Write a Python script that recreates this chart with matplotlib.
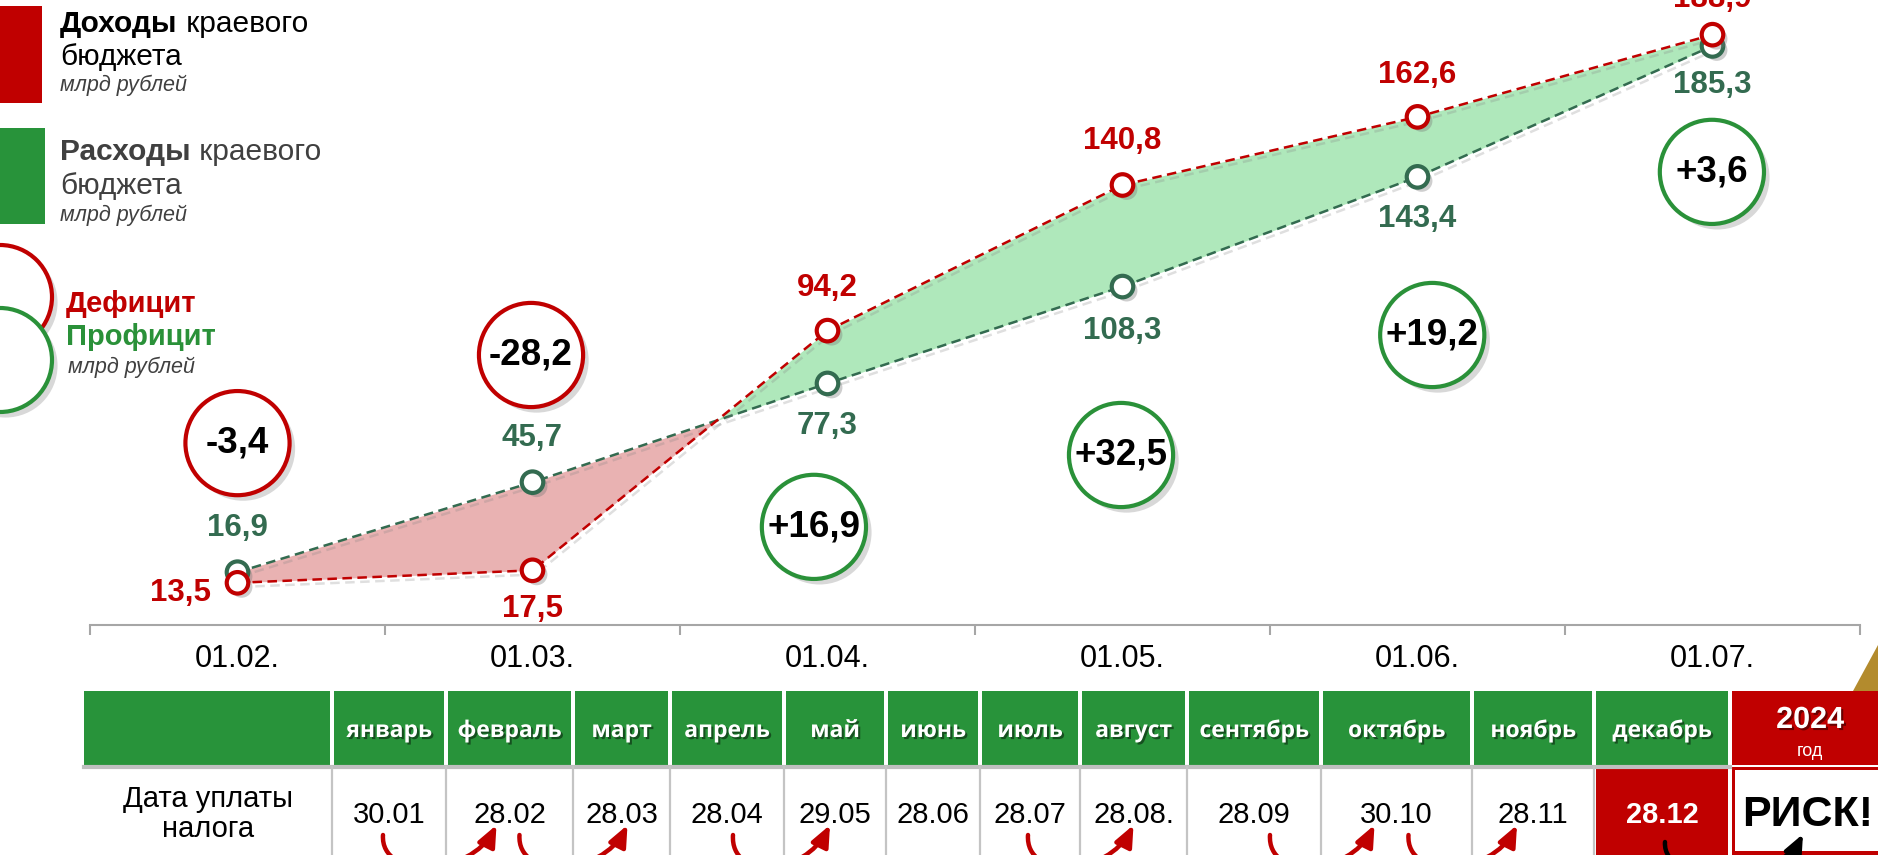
import matplotlib
matplotlib.use('Agg')
import matplotlib.pyplot as plt
import matplotlib.patheffects as pe
from matplotlib.patches import Rectangle, Circle, FancyArrowPatch, Polygon
from matplotlib.path import Path
import numpy as np

# ---------------- data ----------------
dates = ['01.02.', '01.03.', '01.04.', '01.05.', '01.06.', '01.07.']
income = [13.5, 17.5, 94.2, 140.8, 162.6, 188.9]     # Доходы
expense = [16.9, 45.7, 77.3, 108.3, 143.4, 185.3]    # Расходы
months = ['январь', 'февраль', 'март', 'апрель', 'май', 'июнь', 'июль',
          'август', 'сентябрь', 'октябрь', 'ноябрь', 'декабрь']
pay_dates = ['30.01', '28.02', '28.03', '28.04', '29.05', '28.06', '28.07',
             '28.08.', '28.09', '30.10', '28.11', '28.12']
year_label = '2024'
year_sub = 'год'
risk_label = 'РИСК!'
arrow_pairs = [(0, 1), (1, 2), (3, 4), (6, 7), (8, 9), (9, 10)]

# ---------------- style / layout ----------------
RED = '#c00000'
GREEN = '#28933a'
DGREEN = '#336b50'
CGREEN = '#2a9139'
GRAY = '#404040'
plt.rcParams['font.family'] = ['Liberation Sans', 'DejaVu Sans']

W, H = 1878, 855
fig = plt.figure(figsize=(W / 100, H / 100), dpi=100)
fig.patch.set_facecolor('white')

AX_L, AX_R, AX_BOT = 90, 1860, 625
ax = fig.add_axes([AX_L / W, (H - AX_BOT) / H, (AX_R - AX_L) / W, AX_BOT / H])
ax.set_xlim(-0.5, 5.5)
ax.set_ylim(0, 200)
for s in ['top', 'left', 'right']:
    ax.spines[s].set_visible(False)
ax.spines['bottom'].set_color('#a6a6a6')
ax.spines['bottom'].set_linewidth(1.5)
ax.set_yticks([])
ax.set_xticks(np.arange(-0.5, 6, 1))
ax.set_xticklabels([])
ax.set_xticks(range(len(dates)), minor=True)
ax.set_xticklabels(dates, minor=True)
ax.tick_params(axis='x', which='major', length=7.5, width=1.5, color='#a6a6a6', direction='out')
ax.tick_params(axis='x', which='minor', length=0, pad=14, labelsize=22, labelcolor='black')

x = np.arange(len(dates))
inc = np.array(income)
exp_ = np.array(expense)
ax.fill_between(x, inc, exp_, where=inc >= exp_, interpolate=True, color='#afe8bb', lw=0, zorder=1)
ax.fill_between(x, inc, exp_, where=inc < exp_, interpolate=True, color='#e9b2b2', lw=0, zorder=1)

lshadow_line = [pe.SimpleLineShadow(offset=(2, -3), shadow_color='0.5', alpha=0.25), pe.Normal()]
mshadow = [pe.SimplePatchShadow(offset=(3, -3), shadow_rgbFace='0.45', alpha=0.35), pe.Normal()]
ax.plot(x, exp_, ls=(0, (3.8, 2.2)), lw=1.8, color=DGREEN, zorder=2, path_effects=lshadow_line)
ax.plot(x, inc, ls=(0, (3.8, 2.2)), lw=1.8, color=RED, zorder=2, path_effects=lshadow_line)
ax.plot(x, exp_, ls='none', marker='o', ms=15.5, mew=3, mec=DGREEN, mfc='white', zorder=3,
        path_effects=mshadow)
ax.plot(x, inc, ls='none', marker='o', ms=15.5, mew=3, mec=RED, mfc='white', zorder=4,
        path_effects=mshadow)

def fmt(v):
    return f'{v:.1f}'.replace('.', ',')

inc_off = [(-41, -7), (0, -28), (0, 31), (0, 32), (0, 30), (0, 26)]
exp_off = [(0, 32), (0, 32), (0, -31), (0, -32), (0, -30), (0, -28)]
for i in range(len(dates)):
    ax.annotate(fmt(inc[i]), (x[i], inc[i]), xytext=inc_off[i], textcoords='offset points',
                ha='center', va='center', fontsize=22.5, fontweight='bold', color=RED,
                annotation_clip=False, zorder=6)
    ax.annotate(fmt(exp_[i]), (x[i], exp_[i]), xytext=exp_off[i], textcoords='offset points',
                ha='center', va='center', fontsize=22.5, fontweight='bold', color=DGREEN,
                annotation_clip=False, zorder=6)

# balance circles (deficit / surplus)
diff = inc - exp_
circ_pos = [(0.0, 58.2), (0.995, 86.4), (1.954, 31.4), (2.995, 54.4), (4.05, 92.8), (4.998, 145.0)]
cshadow = [pe.SimplePatchShadow(offset=(4, -4), shadow_rgbFace='0.5', alpha=0.3), pe.Normal()]
for d, (cx, cy) in zip(diff, circ_pos):
    col = RED if d < 0 else CGREEN
    ax.plot([cx], [cy], marker='o', ms=75, mew=3, mec=col, mfc='white', zorder=7,
            path_effects=cshadow)
    ax.text(cx, cy, f'{d:+.1f}'.replace('.', ','), ha='center', va='center',
            fontsize=26.5, fontweight='bold', color='black', zorder=8)

# ---------------- overlay (pixel coordinates) ----------------
ov = fig.add_axes([0, 0, 1, 1])
ov.set_xlim(0, W)
ov.set_ylim(H, 0)
ov.axis('off')
ov.patch.set_alpha(0)

fig.canvas.draw()
renderer = fig.canvas.get_renderer()

def two_part(xp, yb, bold_txt, rest_txt, color, size):
    t = ov.text(xp, yb, bold_txt, fontsize=size, fontweight='bold', color=color, va='baseline', ha='left')
    bb = t.get_window_extent(renderer)
    x_end = ov.transData.inverted().transform((bb.x1, bb.y0))[0]
    ov.text(x_end, yb, rest_txt, fontsize=size, color=color, va='baseline', ha='left')

# legend
ov.add_patch(Rectangle((0, 6), 42, 97, color=RED, lw=0))
two_part(60, 32, 'Доходы', ' краевого', 'black', 21.5)
ov.text(60, 65, 'бюджета', fontsize=21.5, color='black', va='baseline')
ov.text(60, 91, 'млрд рублей', fontsize=15.5, style='italic', color=GRAY, va='baseline')

ov.add_patch(Rectangle((0, 128), 45, 96, color=GREEN, lw=0))
two_part(60, 160, 'Расходы', ' краевого', GRAY, 21.5)
ov.text(60, 194, 'бюджета', fontsize=21.5, color=GRAY, va='baseline')
ov.text(60, 221, 'млрд рублей', fontsize=15.5, style='italic', color=GRAY, va='baseline')

lshadow = [pe.SimplePatchShadow(offset=(4, -4), shadow_rgbFace='0.5', alpha=0.3), pe.Normal()]
ov.add_patch(Circle((0, 297), 52, facecolor='white', edgecolor=RED, lw=3, path_effects=lshadow))
ov.add_patch(Circle((0, 360), 52, facecolor='white', edgecolor=CGREEN, lw=3, path_effects=lshadow))
ov.text(66, 312, 'Дефицит', fontsize=21, fontweight='bold', color=RED, va='baseline')
ov.text(66, 345, 'Профицит', fontsize=21, fontweight='bold', color=CGREEN, va='baseline')
ov.text(68, 373, 'млрд рублей', fontsize=15.5, style='italic', color=GRAY, va='baseline')

# gold sign corner
ov.add_patch(Polygon([(1853, 691), (1878, 691), (1878, 645)], closed=True, color='#b38b2d', lw=0))

# table
bounds = [84, 332, 446, 573, 670, 784, 886, 980, 1080, 1187, 1321, 1472, 1594, 1730, 1878]
HT, HB = 691, 765
DT, DB = 769, 855
g = 1.7
ov.add_patch(Rectangle((bounds[0], HT), bounds[1] - g - bounds[0], HB - HT, color=GREEN, lw=0))
hshadow = [pe.SimplePatchShadow(offset=(1.5, -1.5), shadow_rgbFace='black', alpha=0.45), pe.Normal()]
for i, m in enumerate(months):
    x0, x1 = bounds[i + 1] + g, bounds[i + 2] - g
    ov.add_patch(Rectangle((x0, HT), x1 - x0, HB - HT, color=GREEN, lw=0))
    ov.text((x0 + x1) / 2, 731, m, ha='center', va='center', fontsize=16.5, fontweight='bold',
            color='white', family=['Open Sans', 'DejaVu Sans'], path_effects=hshadow)
# year header
ov.add_patch(Rectangle((bounds[13] + g, HT), W - bounds[13] - g, HB - HT, color=RED, lw=0))
ov.text(1810, 720, year_label, ha='center', va='center', fontsize=22, fontweight='bold', color='white',
        path_effects=hshadow)
ov.text(1810, 751, year_sub, ha='center', va='center', fontsize=13, color='white')

# data row
ov.plot([bounds[0], bounds[13]], [767, 767], color='#bfbfbf', lw=3)
for b in bounds[1:13]:
    ov.plot([b, b], [767, DB], color='#c4c4c4', lw=1.6)
ov.text(208, 799, 'Дата уплаты', ha='center', va='center', fontsize=21, color='black')
ov.text(208, 829, 'налога', ha='center', va='center', fontsize=21, color='black')
for i, dt in enumerate(pay_dates):
    x0, x1 = bounds[i + 1], bounds[i + 2]
    xc = (x0 + x1) / 2
    if i == len(pay_dates) - 1:
        ov.add_patch(Rectangle((x0 + g, DT), x1 - x0 - 2 * g, DB - DT, color=RED, lw=0))
        ov.text(xc, 815, dt, ha='center', va='center', fontsize=21, fontweight='bold', color='white')
    else:
        ov.text(xc, 815, dt, ha='center', va='center', fontsize=21, color='black')
# risk cell
ov.add_patch(Rectangle((bounds[13] + g, 767), W - bounds[13] - g, DB - 767, color=RED, lw=0))
ov.add_patch(Rectangle((bounds[13] + 5, 770), W - bounds[13] - 5, 81, color='white', lw=0))
ov.text(1808, 815, risk_label, ha='center', va='center', fontsize=31, fontweight='bold', color='black')

# curved arrows between payment dates (they dip below the picture edge)
centers = [(bounds[i + 1] + bounds[i + 2]) / 2 for i in range(len(months))]
arrow_dx = [(-6, -13), (10, 6), (6, -5), (-2, 0), (16, -22), (12, -16)]
astyle = '-|>,head_length=0.7,head_width=0.3'

def curved_arrow(xa, ya, xb, yb, color):
    p = Path([(xa, ya), (xa - 3, ya + 45), (xb - 26, yb + 52), (xb, yb)],
             [Path.MOVETO, Path.CURVE4, Path.CURVE4, Path.CURVE4])
    ov.add_patch(FancyArrowPatch(path=p, arrowstyle=astyle, mutation_scale=18, lw=3.2,
                                 color=color, shrinkA=0, shrinkB=0))

for (a, b), (da, db) in zip(arrow_pairs, arrow_dx):
    curved_arrow(centers[a] + da, 835, centers[b] + db, 825, RED)
curved_arrow(centers[11] + 3, 842, 1803, 834, 'black')

fig.savefig('out.png', dpi=100, facecolor='white')
